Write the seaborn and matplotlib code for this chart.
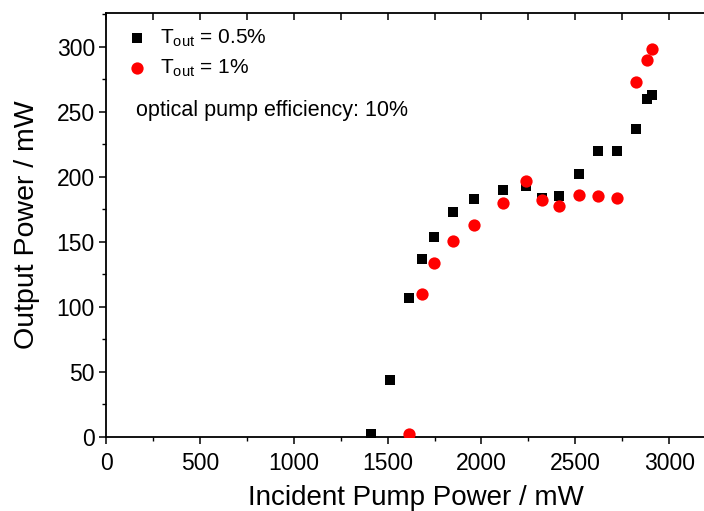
import numpy as np
import pandas as pd
import matplotlib
matplotlib.use("Agg")
import matplotlib.pyplot as plt
from matplotlib.ticker import MultipleLocator
import seaborn as sns

# data
pump_05 = [1410, 1513, 1616, 1682, 1747, 1849, 1959, 2117, 2239, 2323, 2415,
           2518, 2621, 2721, 2824, 2880, 2907]
power_05 = [2, 44, 107, 137, 154, 173, 183, 190, 193, 184, 185,
            202, 220, 220, 237, 260, 263]
pump_1 = [1616, 1682, 1747, 1849, 1959, 2117, 2239, 2323, 2415, 2518, 2621,
          2721, 2824, 2879, 2907]
power_1 = [2, 110, 134, 151, 163, 180, 197, 182, 178, 186, 185,
           184, 273, 290, 298]

label_05 = r'T$_{\mathrm{out}}$ = 0.5%'
label_1 = r'T$_{\mathrm{out}}$ = 1%'

sns.set_style('ticks')
plt.rcParams['font.family'] = ['Liberation Sans', 'DejaVu Sans']
plt.rcParams['mathtext.fontset'] = 'custom'
plt.rcParams['mathtext.rm'] = 'Liberation Sans'
plt.rcParams['mathtext.it'] = 'Liberation Sans:italic'
plt.rcParams['text.color'] = 'black'
plt.rcParams['axes.labelcolor'] = 'black'

df05 = pd.DataFrame({'pump': pump_05, 'power': power_05})
df1 = pd.DataFrame({'pump': pump_1, 'power': power_1})

fig = plt.figure(figsize=(7.04, 5.11), dpi=100)
ax = fig.add_axes([0.1506, 0.1448, 0.880, 0.8297])

sns.scatterplot(data=df05, x='pump', y='power', marker='s', color='black',
                s=60, linewidth=0, label=label_05, ax=ax, zorder=3)
sns.scatterplot(data=df1, x='pump', y='power', marker='o', color='#ff0000',
                s=78, linewidth=0, label=label_1, ax=ax, zorder=3)

ax.set_xlim(0, 3300)
ax.set_ylim(0, 326)
ax.xaxis.set_major_locator(MultipleLocator(500))
ax.xaxis.set_minor_locator(MultipleLocator(250))
ax.yaxis.set_major_locator(MultipleLocator(50))
ax.yaxis.set_minor_locator(MultipleLocator(25))

for sp in ax.spines.values():
    sp.set_visible(True)
    sp.set_linewidth(1.3)
    sp.set_color('black')

ax.tick_params(which='major', direction='out', length=5, width=1.1,
               labelsize=16.5, colors='black')
ax.tick_params(axis='x', which='major', pad=6)
ax.tick_params(axis='y', which='major', pad=3)
ax.tick_params(which='minor', direction='out', length=3, width=1.0,
               colors='black')

# top spine ticks pointing inward, no labels
top = ax.twiny()
top.set_xlim(ax.get_xlim())
top.xaxis.set_major_locator(MultipleLocator(250))
top.tick_params(axis='x', top=True, bottom=False, direction='in', length=5,
                width=1.1, color='black', labeltop=False, labelbottom=False)
for sp in top.spines.values():
    sp.set_visible(False)

ax.set_xlabel('Incident Pump Power / mW', fontsize=20, labelpad=7)
ax.set_ylabel('Output Power / mW', fontsize=20.5, labelpad=12)

leg = ax.legend(loc='upper left', bbox_to_anchor=(0.0, 1.0), frameon=False,
                fontsize=15, handletextpad=0.3, labelspacing=0.4,
                borderaxespad=0.3, handlelength=1.6)

ax.text(160, 251, 'optical pump efficiency: 10%', fontsize=15.5,
        va='center', ha='left')

fig.savefig('out.png', dpi=100)
